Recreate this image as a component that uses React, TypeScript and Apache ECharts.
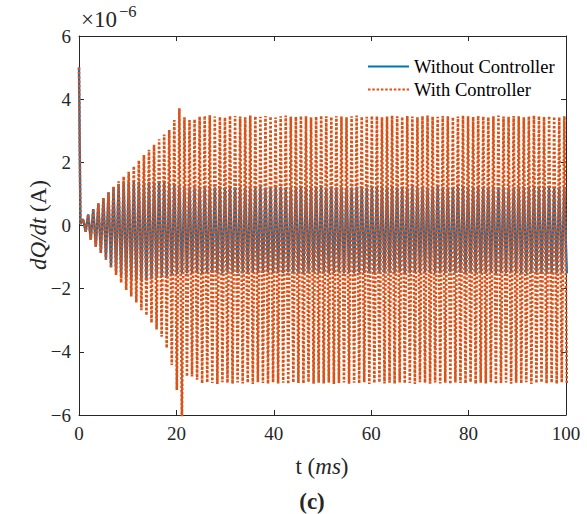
import React, { useEffect, useRef } from "react";
import * as echarts from "echarts";

// Start of the record (t in ms, value in 1e-6 A)
const startT = [0, 0.3];
const startBlue = [5.0, 0.05];
const startOrange = [5.0, 0.05];

// Oscillation: one peak and one trough per cycle
const PERIOD = 1.04; // ms
const FIRST_PEAK = 0.85; // ms

const withoutHigh = [
  0.2, 0.35, 0.52, 0.7, 0.87, 1.05, 1.22, 1.32, 1.36, 1.38,
  1.38, 1.38, 1.37, 1.38, 1.37, 1.36, 1.35, 1.33, 1.3, 1.27,
  1.24, 1.22, 1.21, 1.22, 1.2, 1.22, 1.21, 1.23, 1.2, 1.22,
  1.21, 1.22, 1.2, 1.23, 1.21, 1.22, 1.2, 1.21, 1.23, 1.22,
  1.2, 1.21, 1.22, 1.23, 1.2, 1.22, 1.21, 1.22, 1.2, 1.23,
  1.21, 1.22, 1.2, 1.21, 1.23, 1.22, 1.2, 1.21, 1.22, 1.23,
  1.2, 1.22, 1.21, 1.22, 1.2, 1.23, 1.21, 1.22, 1.2, 1.21,
  1.23, 1.22, 1.2, 1.21, 1.22, 1.23, 1.2, 1.22, 1.21, 1.22,
  1.2, 1.23, 1.21, 1.22, 1.2, 1.21, 1.23, 1.22, 1.2, 1.21,
  1.22, 1.23, 1.2, 1.22, 1.21, 1.22,
];
const withoutLow = [
  -0.2, -0.45, -0.67, -0.87, -1.05, -1.3, -1.48, -1.6, -1.68, -1.72,
  -1.74, -1.75, -1.74, -1.7, -1.66, -1.62, -1.6, -1.57, -1.55, -1.53,
  -1.52, -1.51, -1.5, -1.51, -1.49, -1.5, -1.52, -1.5, -1.49, -1.51,
  -1.5, -1.52, -1.49, -1.5, -1.51, -1.5, -1.49, -1.52, -1.5, -1.51,
  -1.49, -1.5, -1.52, -1.5, -1.51, -1.49, -1.5, -1.51, -1.52, -1.5,
  -1.49, -1.51, -1.5, -1.52, -1.49, -1.5, -1.51, -1.5, -1.49, -1.52,
  -1.5, -1.51, -1.49, -1.5, -1.52, -1.5, -1.51, -1.49, -1.5, -1.51,
  -1.52, -1.5, -1.49, -1.51, -1.5, -1.52, -1.49, -1.5, -1.51, -1.5,
  -1.49, -1.52, -1.5, -1.51, -1.49, -1.5, -1.52, -1.5, -1.51, -1.49,
  -1.5, -1.51, -1.52, -1.5, -1.49, -1.51,
];
const withHigh = [
  0.2, 0.35, 0.52, 0.7, 0.87, 1.05, 1.24, 1.4, 1.55, 1.7,
  1.88, 2.06, 2.23, 2.4, 2.56, 2.73, 2.88, 3.02, 3.34, 3.71,
  3.43, 3.34, 3.36, 3.45, 3.47, 3.49, 3.45, 3.44, 3.42, 3.47,
  3.47, 3.45, 3.43, 3.48, 3.46, 3.44, 3.47, 3.45, 3.42, 3.46,
  3.48, 3.45, 3.44, 3.47, 3.46, 3.43, 3.45, 3.48, 3.46, 3.44,
  3.47, 3.45, 3.43, 3.46, 3.48, 3.45, 3.44, 3.47, 3.46, 3.43,
  3.45, 3.48, 3.46, 3.44, 3.47, 3.45, 3.43, 3.46, 3.48, 3.45,
  3.44, 3.47, 3.46, 3.43, 3.45, 3.48, 3.46, 3.44, 3.47, 3.45,
  3.43, 3.46, 3.48, 3.45, 3.44, 3.47, 3.46, 3.43, 3.45, 3.48,
  3.46, 3.44, 3.47, 3.45, 3.43, 3.46,
];
const withLow = [
  -0.2, -0.45, -0.67, -0.87, -1.09, -1.36, -1.57, -1.81, -2.04, -2.25,
  -2.44, -2.68, -2.85, -3.08, -3.29, -3.52, -3.88, -4.42, -5.21, -6.3,
  -4.78, -4.78, -4.88, -5.0, -4.97, -4.99, -5.02, -4.96, -4.98, -5.01,
  -4.97, -5.0, -4.98, -5.02, -4.96, -4.99, -5.01, -4.97, -5.0, -4.98,
  -5.02, -4.97, -4.99, -5.0, -4.96, -5.01, -4.98, -5.0, -4.97, -5.02,
  -4.99, -4.97, -5.01, -4.98, -5.0, -4.96, -5.02, -4.99, -4.97, -5.0,
  -4.98, -5.01, -4.97, -5.0, -4.99, -5.02, -4.96, -4.98, -5.01, -4.97,
  -5.0, -4.98, -5.02, -4.97, -4.99, -5.0, -4.96, -5.01, -4.98, -5.0,
  -4.97, -5.02, -4.99, -4.97, -5.01, -4.98, -5.0, -4.96, -5.02, -4.99,
  -4.97, -5.0, -4.98, -5.01, -4.97, -5.0,
];

const xTicks = [0, 20, 40, 60, 80, 100];
const yTicks = [-6, -4, -2, 0, 2, 4, 6];

function buildSeries(startV: number[], highs: number[], lows: number[]) {
  const pts: number[][] = startT.map((t, i) => [t, startV[i]]);
  for (let k = 0; k < highs.length; k++) {
    const tp = FIRST_PEAK + k * PERIOD;
    pts.push([tp, highs[k]]);
    pts.push([tp + PERIOD / 2, lows[k]]);
  }
  return pts;
}

const FONT = "Liberation Serif";
const TXT = "#262626";

export default function App() {
  const ref = useRef<HTMLDivElement>(null);
  useEffect(() => {
    if (!ref.current) return;
    const chart = echarts.init(ref.current, null, { renderer: "svg" });
    const blue = buildSeries(startBlue, withoutHigh, withoutLow);
    const orange = buildSeries(startOrange, withHigh, withLow);
    const fmtY = (v: number) => String(v).replace("-", "\u2212");
    const axisCommon = {
      axisLine: { show: true, onZero: false, lineStyle: { color: TXT, width: 1 } },
      axisTick: { show: true, inside: true, length: 5, lineStyle: { color: TXT } },
      splitLine: { show: false },
    };
    chart.setOption({
      animation: false,
      textStyle: { fontFamily: FONT },
      grid: { left: 79, top: 36, width: 487, height: 379 },
      xAxis: [
        {
          type: "value",
          min: xTicks[0],
          max: xTicks[xTicks.length - 1],
          interval: 20,
          position: "bottom",
          ...axisCommon,
          axisLabel: { fontFamily: FONT, fontSize: 19, color: TXT, margin: 9 },
        },
        {
          type: "value",
          min: xTicks[0],
          max: xTicks[xTicks.length - 1],
          interval: 20,
          position: "top",
          ...axisCommon,
          axisLabel: { show: false },
        },
      ],
      yAxis: [
        {
          type: "value",
          min: yTicks[0],
          max: yTicks[yTicks.length - 1],
          interval: 2,
          position: "left",
          ...axisCommon,
          axisLabel: { fontFamily: FONT, fontSize: 19, color: TXT, margin: 8, formatter: fmtY },
        },
        {
          type: "value",
          min: yTicks[0],
          max: yTicks[yTicks.length - 1],
          interval: 2,
          position: "right",
          ...axisCommon,
          axisLabel: { show: false },
        },
      ],
      legend: {
        orient: "vertical",
        left: 362,
        top: 52,
        itemWidth: 41,
        itemHeight: 14,
        itemGap: 4,
        itemStyle: { opacity: 0 },
        textStyle: { fontFamily: FONT, fontSize: 18.5, lineHeight: 19, color: "#000" },
        data: [
          { name: "Without Controller" },
          { name: "With Controller" },
        ],
      },
      series: [
        {
          name: "Without Controller",
          type: "line",
          data: blue,
          showSymbol: false,
          symbol: "none",
          lineStyle: { color: "#0072BD", width: 2.3 },
          itemStyle: { color: "#0072BD" },
          z: 2,
        },
        {
          name: "With Controller",
          type: "line",
          data: orange,
          showSymbol: false,
          symbol: "none",
          lineStyle: { color: "#D95319", width: 2.6, type: [2.5, 1.8], cap: "butt" },
          itemStyle: { color: "#D95319" },
          z: 3,
        },
      ],
      graphic: [
        {
          type: "text",
          x: 81,
          y: 3,
          style: {
            text: "{b|\u00d710}{s|\u22126}",
            fill: TXT,
            rich: {
              b: { fontFamily: FONT, fontSize: 23, fill: TXT, lineHeight: 28, verticalAlign: "bottom" },
              s: { fontFamily: FONT, fontSize: 16.5, fill: TXT, lineHeight: 28, verticalAlign: "top", padding: [0, 0, 0, 2] },
            },
          },
        },
        {
          type: "text",
          x: 38,
          y: 225,
          rotation: Math.PI / 2,
          style: {
            text: "{i|dQ/dt} (A)",
            fontFamily: FONT,
            fontSize: 23,
            fill: TXT,
            align: "center",
            verticalAlign: "middle",
            rich: { i: { fontFamily: FONT, fontSize: 23, fontStyle: "italic", fill: TXT } },
          },
        },
        {
          type: "text",
          x: 322,
          y: 466,
          style: {
            text: "t ({i|ms})",
            fontFamily: FONT,
            fontSize: 23,
            fill: TXT,
            align: "center",
            verticalAlign: "middle",
            rich: { i: { fontFamily: FONT, fontSize: 23, fontStyle: "italic", fill: TXT } },
          },
        },
        {
          type: "text",
          x: 312,
          y: 501,
          style: {
            text: "(c)",
            fontFamily: FONT,
            fontSize: 23,
            fontWeight: "bold",
            fill: TXT,
            align: "center",
            verticalAlign: "middle",
          },
        },
      ],
    });
    return () => chart.dispose();
  }, []);
  return (
    <div
      ref={ref}
      style={{ position: "absolute", left: 0, top: 0, width: 587, height: 514, background: "#fff" }}
    />
  );
}
